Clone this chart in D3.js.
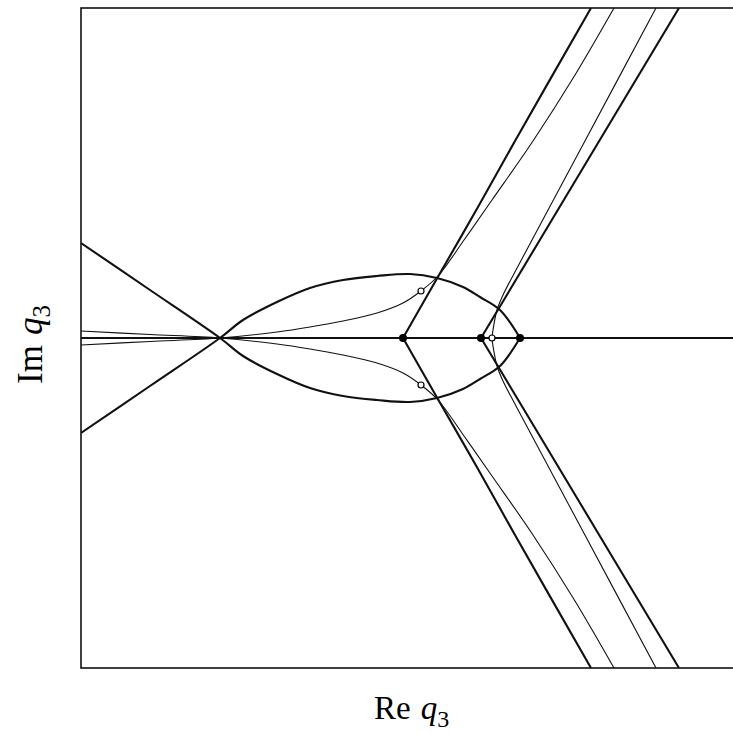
<!DOCTYPE html>
<html>
<head>
<meta charset="utf-8">
<script src="https://cdn.jsdelivr.net/npm/d3@7"></script>
<style>
  body { margin: 0; background: #fff; }
  svg { display: block; }
</style>
</head>
<body>
<div id="chart-area"></div>
<script>
// Re q3 / Im q3 plane, units of 1 = 100px
const margin = { left: 81, top: 8, right: -2, bottom: 72 };

// the lens (upper arc continues left of the crossing as the lower-left branch)
const lensUpper = [
  [-3.22, -0.95], [-2.53, -0.48], [-1.83, 0], [-1.60, 0.18], [-1.26, 0.36],
  [-0.93, 0.50], [-0.60, 0.58], [-0.26, 0.62], [0.07, 0.64], [0.34, 0.60],
  [0.60, 0.51], [0.77, 0.41], [0.97, 0.28], [1.17, 0]
];
// thin curve coming in just below the axis and leaving to the upper right
const thinUpper = [
  [-3.22, -0.07], [-2.53, -0.035], [-1.83, 0], [-1.26, 0.06], [-0.93, 0.11],
  [-0.60, 0.17], [-0.26, 0.25], [0, 0.35], [0.18, 0.47], [0.35, 0.62],
  [0.61, 0.98], [0.89, 1.38], [1.30, 1.97], [1.72, 2.63], [2.11, 3.30]
];
// thick ray from the first dot
const rayA = [[0, 0], [0.36, 0.63], [0.75, 1.31], [1.12, 1.97], [1.88, 3.30]];
// thick ray from the second dot
const rayB = [[0.78, 0], [1.77, 1.65], [2.76, 3.30]];
// thin curve through the middle open circle
const thinB = [
  [0.89, 0], [0.90, 0.08], [0.94, 0.28], [1.00, 0.43], [1.13, 0.68],
  [1.83, 1.99], [2.53, 3.30]
];
const dots = [[0, 0], [0.78, 0], [1.17, 0]];
const rings = [[0.18, 0.47], [0.89, 0], [0.18, -0.47]];

const mirror = pts => pts.map(d => [d[0], -d[1]]);

const x = d3.scaleLinear().domain([-3.22, 3.32]).range([0, 654]);
const y = d3.scaleLinear().domain([-3.3, 3.3]).range([660, 0]);

const svg = d3.select('#chart-area').append('svg')
  .attr('width', 733)
  .attr('height', 740);

const g = svg.append('g')
  .attr('transform', 'translate(' + margin.left + ',' + margin.top + ')');

g.append('clipPath').attr('id', 'clip')
  .append('rect').attr('width', 660).attr('height', 660);

const plot = g.append('g').attr('clip-path', 'url(#clip)');

const line = d3.line().x(d => x(d[0])).y(d => y(d[1])).curve(d3.curveCatmullRom);

// horizontal axis line
plot.append('path')
  .attr('d', line([[-3.22, 0], [3.4, 0]]))
  .attr('fill', 'none').attr('stroke', '#111').attr('stroke-width', 1.8);

// thin curves; thinB is one curve through the open circle
const thin = [
  thinUpper,
  mirror(thinUpper),
  mirror(thinB).slice().reverse().concat(thinB.slice(1))
];
plot.selectAll('.thin').data(thin).enter().append('path')
  .attr('class', 'thin')
  .attr('d', line)
  .attr('fill', 'none').attr('stroke', '#111').attr('stroke-width', 1.1);

// thick curves
const thick = [lensUpper, mirror(lensUpper), rayA, mirror(rayA), rayB, mirror(rayB)];
plot.selectAll('.thick').data(thick).enter().append('path')
  .attr('class', 'thick')
  .attr('d', line)
  .attr('fill', 'none').attr('stroke', '#111').attr('stroke-width', 2.1);

plot.selectAll('.dot').data(dots).enter().append('circle')
  .attr('cx', d => x(d[0])).attr('cy', d => y(d[1]))
  .attr('r', 4).attr('fill', '#000');

plot.selectAll('.ring').data(rings).enter().append('circle')
  .attr('cx', d => x(d[0])).attr('cy', d => y(d[1]))
  .attr('r', 3).attr('fill', '#fff').attr('stroke', '#000').attr('stroke-width', 1.2);

// frame (right side falls off the page)
g.append('rect')
  .attr('width', 660).attr('height', 660)
  .attr('fill', 'none').attr('stroke', '#111').attr('stroke-width', 1.6);

// axis labels
const xl = svg.append('text')
  .attr('x', 374).attr('y', 719)
  .attr('font-family', 'Liberation Serif, serif').attr('font-size', 33);
xl.append('tspan').text('Re');
xl.append('tspan').attr('dx', 10).attr('font-style', 'italic').text('q');
xl.append('tspan').attr('dy', 8).attr('font-size', 24).text('3');

const yl = svg.append('text')
  .attr('transform', 'translate(42,384) rotate(-90)')
  .attr('font-family', 'Liberation Serif, serif').attr('font-size', 35);
yl.append('tspan').text('Im');
yl.append('tspan').attr('dx', 10).attr('font-style', 'italic').text('q');
yl.append('tspan').attr('dy', 8).attr('font-size', 25).text('3');
</script>
</body>
</html>
